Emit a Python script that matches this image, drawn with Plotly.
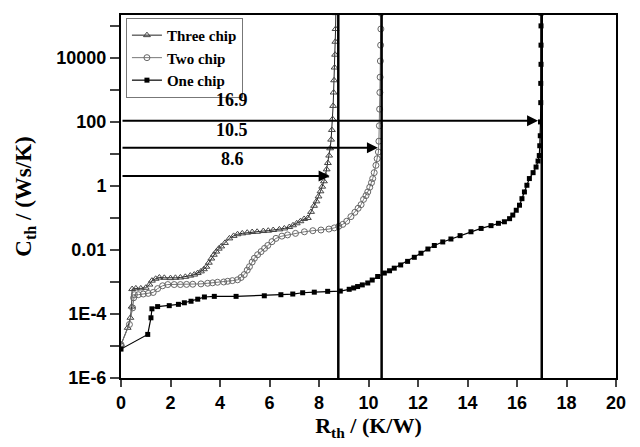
import plotly.graph_objects as go

# ---------------- data ----------------
three_x = [0, 0.27, 0.38, 0.43, 0.45, 0.6, 0.8, 1.0, 1.15, 1.25, 1.4, 1.55, 1.75, 2.0, 2.2, 2.4,
           2.6, 2.8, 2.96, 3.1, 3.23, 3.35, 3.45, 3.55, 3.65, 3.75, 3.85, 3.95, 4.05, 4.2, 4.38,
           4.55, 4.71, 4.9, 5.1, 5.3, 5.5, 5.75, 5.95, 6.15, 6.4, 6.6, 6.8, 6.95, 7.1, 7.25, 7.4,
           7.55, 7.68, 7.8, 7.9, 7.98, 8.06, 8.13, 8.2, 8.26, 8.31, 8.36, 8.41, 8.45, 8.49, 8.52,
           8.55, 8.57, 8.59, 8.61, 8.63, 8.65, 8.66, 8.67, 8.68]
three_y = [1.1e-5, 3.7e-5, 7.6e-5, 1.7e-4, 6.0e-4, 6.3e-4, 6.3e-4, 6.6e-4, 8.3e-4, 1.1e-3, 1.26e-3,
           1.38e-3, 1.35e-3, 1.32e-3, 1.35e-3, 1.38e-3, 1.45e-3, 1.58e-3, 1.7e-3, 1.9e-3, 2.14e-3,
           2.5e-3, 3.0e-3, 4.0e-3, 5.4e-3, 7.1e-3, 8.9e-3, 1.1e-2, 1.29e-2, 1.66e-2, 2.3e-2,
           2.75e-2, 3.1e-2, 3.3e-2, 3.47e-2, 3.63e-2, 3.7e-2, 3.9e-2, 4.0e-2, 4.2e-2, 4.4e-2,
           4.7e-2, 5.2e-2, 5.9e-2, 6.8e-2, 7.9e-2, 9.3e-2, 0.10, 0.155, 0.24, 0.33, 0.47, 0.68,
           0.95, 1.4, 2.1, 3.3, 5.2, 8.9, 15, 28, 56, 123, 316, 830, 2000, 5000, 1.26e4, 3.2e4,
           8e4, 2.5e5]

two_x = [0, 0.34, 0.47, 0.51, 0.54, 0.7, 0.9, 1.1, 1.3, 1.48, 1.68, 1.89, 2.15, 2.4, 2.65, 2.9,
         3.23, 3.5, 3.7, 3.9, 4.15, 4.31, 4.5, 4.71, 4.85, 4.98, 5.1, 5.19, 5.3, 5.39, 5.52, 5.66,
         5.8, 5.93, 6.1, 6.26, 6.5, 6.73, 7.05, 7.41, 7.75, 8.08, 8.4, 8.62, 8.8, 8.96, 9.12,
         9.29, 9.45, 9.58, 9.7, 9.8, 9.9, 9.97, 10.05, 10.12, 10.17, 10.23, 10.3, 10.35, 10.4,
         10.42, 10.44, 10.45, 10.46, 10.47, 10.48, 10.49, 10.5, 10.5]
two_y = [1.1e-5, 4.7e-5, 1.55e-4, 3.2e-4, 4.0e-4, 4.0e-4, 4.2e-4, 4.4e-4, 4.7e-4, 6.2e-4, 7.6e-4,
         8.3e-4, 8.3e-4, 8.3e-4, 8.4e-4, 8.5e-4, 8.7e-4, 9.1e-4, 9.4e-4, 9.8e-4, 1.0e-3, 1.05e-3,
         1.1e-3, 1.17e-3, 1.38e-3, 1.7e-3, 2.34e-3, 3.0e-3, 4.2e-3, 5.5e-3, 7.1e-3, 8.9e-3,
         1.12e-2, 1.38e-2, 1.82e-2, 2.3e-2, 2.7e-2, 2.95e-2, 3.3e-2, 3.7e-2, 4.0e-2, 4.2e-2,
         4.5e-2, 4.9e-2, 5.5e-2, 6.3e-2, 7.9e-2, 0.11, 0.15, 0.2, 0.26, 0.38, 0.5, 0.65, 0.91,
         1.26, 1.7, 2.6, 4.4, 7.1, 11.5, 25, 76, 250, 830, 2500, 8000, 2.5e4, 8e4, 2.5e5]

one_x = [0, 1.08, 1.21, 1.25, 1.48, 1.95, 2.32, 2.56, 2.83, 3.1, 3.37, 3.77, 4.65, 5.79, 6.46,
         6.94, 7.34, 7.81, 8.35, 8.86, 9.22, 9.4, 9.56, 9.75, 9.97, 10.15, 10.37, 10.64, 10.85,
         11.04, 11.3, 11.58, 11.85, 12.12, 12.4, 12.66, 13.0, 13.33, 13.7, 14.14, 14.55, 14.95,
         15.25, 15.49, 15.7, 15.83, 15.97, 16.1, 16.2, 16.3, 16.4, 16.5, 16.65, 16.77, 16.85,
         16.9, 16.92, 16.94, 16.95, 16.96, 16.96, 16.97, 16.97, 16.97, 16.97]
one_y = [8e-6, 2.3e-5, 7.6e-5, 1.45e-4, 1.7e-4, 1.82e-4, 2.0e-4, 2.24e-4, 2.5e-4, 2.9e-4, 3.4e-4,
         3.55e-4, 3.55e-4, 3.7e-4, 4.0e-4, 4.2e-4, 4.6e-4, 4.8e-4, 5.1e-4, 5.2e-4, 5.9e-4, 6.5e-4,
         7.2e-4, 8.1e-4, 9.3e-4, 1.15e-3, 1.48e-3, 1.9e-3, 2.24e-3, 2.7e-3, 3.4e-3, 4.4e-3,
         5.9e-3, 7.9e-3, 1.07e-2, 1.38e-2, 1.78e-2, 2.2e-2, 2.8e-2, 3.7e-2, 4.7e-2, 5.75e-2,
         6.8e-2, 7.6e-2, 9.5e-2, 0.123, 0.174, 0.25, 0.4, 0.65, 1.05, 1.7, 2.6, 3.9, 6.0, 8.9,
         18, 37, 100, 400, 1600, 6300, 2.5e4, 1e5, 2.5e5]

# vertical marker lines (R_th positions)
vline_x = [8.78, 10.53, 17.0]
# arrows: label, arrow tip x, arrow y (Cth level)
arrow_labels = ["16.9", "10.5", "8.6"]
arrow_tip_x = [16.85, 10.38, 8.43]
arrow_y_log = [2.04, 1.19, 0.31]
label_y_log = [2.68, 1.74, 0.84]

x_ticks = [0, 2, 4, 6, 8, 10, 12, 14, 16, 18, 20]
y_tick_vals = [1e-6, 1e-5, 1e-4, 1e-3, 1e-2, 1e-1, 1, 10, 100, 1e3, 1e4, 1e5]
y_tick_text = ["1E-6", "", "1E-4", "", "0.01", "", "1", "", "100", "", "10000", ""]

# ---------------- figure ----------------
fig = go.Figure()
fig.add_trace(go.Scatter(x=three_x, y=three_y, name="Three chip", mode="lines+markers",
                         line=dict(color="#222222", width=1),
                         marker=dict(symbol="triangle-up-open", size=6, color="#444444",
                                     line=dict(width=1))))
fig.add_trace(go.Scatter(x=two_x, y=two_y, name="Two chip", mode="lines+markers",
                         line=dict(color="#777777", width=1),
                         marker=dict(symbol="circle-open", size=6, color="#666666",
                                     line=dict(width=1))))
fig.add_trace(go.Scatter(x=one_x, y=one_y, name="One chip", mode="lines+markers",
                         line=dict(color="#000000", width=1.2),
                         marker=dict(symbol="square", size=5, color="#000000")))

for vx in vline_x:
    fig.add_shape(type="line", xref="x", yref="paper", x0=vx, x1=vx, y0=0, y1=1,
                  line=dict(color="black", width=2.5))

serif = "Liberation Serif"
for lab, tx, ay, ly in zip(arrow_labels, arrow_tip_x, arrow_y_log, label_y_log):
    fig.add_annotation(x=tx, y=ay, ax=0, ay=ay, xref="x", yref="y", axref="x", ayref="y",
                       showarrow=True, arrowhead=2, arrowsize=1.1, arrowwidth=2,
                       arrowcolor="black", text="")
    fig.add_annotation(x=4.5, y=ly, xref="x", yref="y", text="<b>%s</b>" % lab,
                       showarrow=False, font=dict(family=serif, size=18, color="black"))

fig.update_layout(
    width=640, height=447,
    margin=dict(l=113, r=32, t=5, b=77),
    plot_bgcolor="white", paper_bgcolor="white",
    font=dict(family="Liberation Sans", color="black"),
    showlegend=True,
    legend=dict(x=0.01, y=0.992, xanchor="left", yanchor="top",
                bgcolor="white", bordercolor="#777777", borderwidth=1,
                font=dict(family=serif, size=15, color="black", weight="bold"),
                tracegroupgap=0),
)
fig.update_xaxes(range=[0, 20], tickvals=x_ticks, ticks="outside", ticklen=7, tickwidth=2,
                 showgrid=False, zeroline=False, showline=True, linewidth=2, linecolor="black",
                 mirror=True, tickfont=dict(size=18, weight="bold"),
                 title=dict(text="R<sub>th</sub> / (K/W)", standoff=6,
                            font=dict(family=serif, size=22, weight="bold")))
fig.update_yaxes(type="log", range=[-6, 5.34], tickvals=y_tick_vals, ticktext=y_tick_text,
                 ticks="outside", ticklen=9, tickwidth=2, showgrid=False, zeroline=False,
                 showline=True, linewidth=2, linecolor="black", mirror=True,
                 tickfont=dict(size=18, weight="bold"),
                 title=dict(text="C<sub>th</sub> / (Ws/K)", standoff=18,
                            font=dict(family=serif, size=23, weight="bold")))

fig.write_html("out.html")
